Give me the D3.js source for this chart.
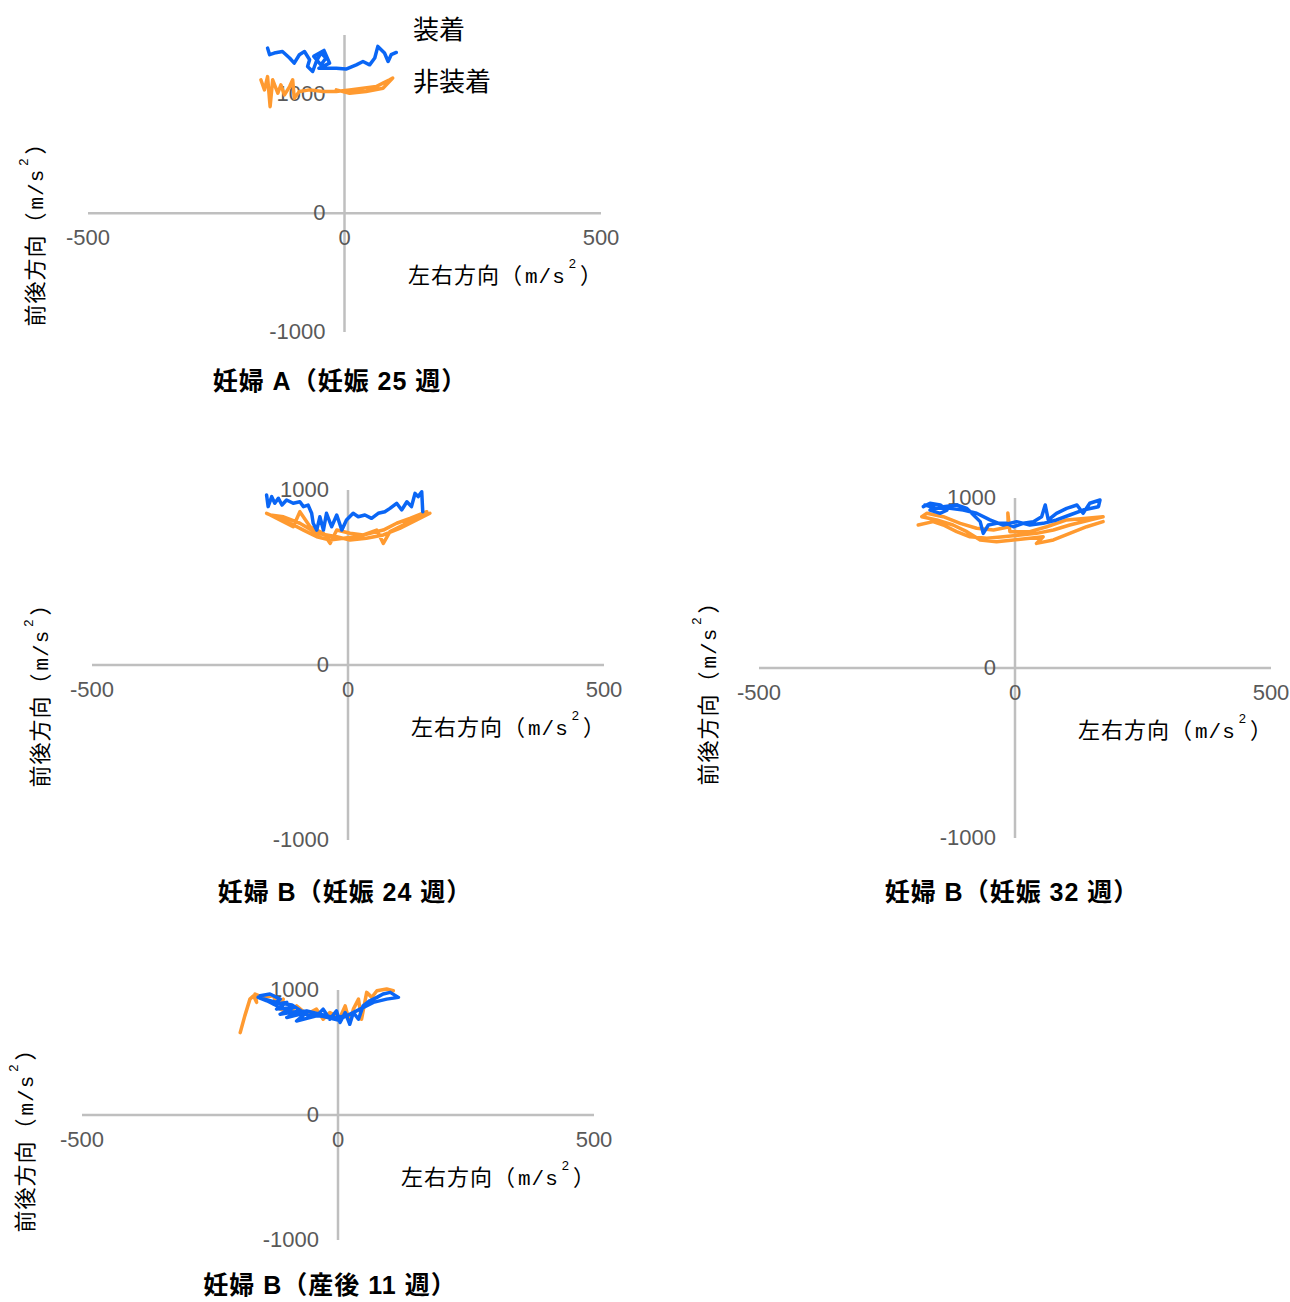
<!DOCTYPE html>
<html>
<head>
<meta charset="utf-8">
<script src="https://cdn.jsdelivr.net/npm/d3@7"></script>
<style>
  body { margin: 0; background: #fff; }
  svg { display: block; }
  .tick-label { font-family: "Liberation Sans", Arial, sans-serif; font-size: 22px; fill: #595959; }
  .axis-title { font-family: "Noto Sans CJK JP", sans-serif; font-size: 22px; fill: #000; letter-spacing: 1px; }
  .unit { font-family: "Liberation Mono", monospace; font-size: 21px; }
  .panel-title { font-family: "Liberation Sans", "Noto Sans CJK JP", sans-serif; font-size: 25px; font-weight: bold; fill: #000; letter-spacing: 1px; }
  .legend { font-family: "Noto Sans CJK JP", sans-serif; font-size: 26px; fill: #000; }
</style>
</head>
<body>
<svg width="1290" height="1302"></svg>
<script>
// series names
const seriesNames = ["装着", "非装着"]
const xTicks = [-500, 0, 500]
const yTicks = [-1000, 0, 1000]

// 妊婦A 妊娠25週  [左右, 前後]
const a25Wear = [[-150,1390],[-146,1334],[-137,1348],[-121,1361],[-107,1306],[-98,1263],[-88,1334],[-78,1361],
  [-68,1292],[-72,1235],[-62,1193],[-55,1277],[-46,1348],[-36,1306],[-46,1249],[-60,1320],[-40,1370],[-29,1263],
  [-50,1220],[-16,1221],[3,1213],[23,1249],[36,1277],[49,1249],[59,1306],[65,1404],[78,1348],[85,1277],[91,1334],[101,1353]]
const a25NoWear = [[-163,1123],[-156,1038],[-150,1150],[-145,897],[-140,1123],[-130,1010],[-124,1080],[-117,996],
  [-107,1066],[-101,1123],[-98,968],[-88,1024],[-68,1038],[-42,1024],[-16,1024],[10,1038],[36,1052],[62,1066],
  [75,1095],[88,1123],[94,1137],[75,1052],[42,1024],[10,1010],[-16,1038]]

// 妊婦B 妊娠24週
const b24Wear = [[-159,971],[-156,905],[-149,962],[-143,924],[-136,953],[-129,914],[-120,943],[-107,924],[-94,933],
  [-87,905],[-78,914],[-71,867],[-68,810],[-61,771],[-55,847],[-48,771],[-42,867],[-32,790],[-22,857],[-12,771],
  [-3,829],[10,867],[20,847],[33,857],[46,838],[59,867],[72,876],[82,895],[95,924],[105,886],[115,933],[124,905],
  [131,981],[137,962],[144,990],[146,876]]
const b24NoWear = [[-159,867],[-113,810],[-87,771],[-61,733],[-35,714],[-9,724],[17,733],[43,753],[69,771],[95,810],
  [121,838],[154,876],[134,847],[108,800],[82,762],[69,695],[56,771],[30,743],[4,753],[-22,771],[-35,695],[-48,753],
  [-74,790],[-94,876],[-107,790],[-133,829],[-152,857],[-126,847],[-94,810],[-61,753],[-22,733],[4,714],[36,724],
  [69,743],[101,781],[134,829],[160,867]]

// 妊婦B 妊娠32週
const b32Wear = [[-179,949],[-166,969],[-146,959],[-133,929],[-146,910],[-166,929],[-140,949],[-114,959],[-94,939],
  [-81,900],[-68,861],[-62,792],[-52,841],[-36,851],[-16,851],[-3,831],[16,851],[36,861],[52,890],[59,959],[65,871],
  [81,910],[101,939],[121,959],[133,910],[146,969],[166,988],[163,949],[133,929],[107,900],[81,871],[55,851],[29,841],
  [3,861],[-23,841],[-49,871],[-75,910],[-101,929],[-127,939],[-153,939],[-176,959]]
const b32NoWear = [[-189,841],[-160,861],[-140,841],[-114,802],[-88,772],[-55,763],[-23,772],[10,782],[42,792],
  [75,812],[107,841],[146,871],[172,890],[140,881],[101,871],[62,831],[29,802],[-10,802],[-14,912],[-13,829],
  [-42,812],[-75,822],[-107,851],[-140,890],[-172,910],[-182,890],[-153,871],[-121,841],[-94,802],[-68,753],
  [-36,743],[-3,753],[29,763],[55,772],[42,733],[75,753],[107,792],[140,831],[172,861]]

// 妊婦B 産後11週
const b11Wear = [[-152,954],[-133,968],[-113,927],[-126,887],[-100,901],[-120,847],[-87,861],[-113,806],[-74,833],
  [-100,780],[-61,820],[-81,752],[-42,793],[-29,847],[-16,766],[-3,833],[4,740],[14,820],[23,726],[30,820],[40,766],
  [49,873],[62,914],[76,941],[88,968],[102,981],[118,941],[95,927],[69,901],[43,847],[17,793],[-9,780],[-35,806],
  [-61,833],[-87,820],[-113,861],[-139,914],[-156,941],[-120,900],[-90,880],[-60,800],[-30,790],[0,760],[20,800]]
const b11NoWear = [[-191,659],[-182,793],[-172,927],[-165,954],[-159,901],[-162,968],[-146,941],[-126,954],[-120,887],
  [-107,927],[-113,847],[-94,820],[-81,873],[-61,806],[-42,847],[-29,766],[-16,820],[4,780],[14,873],[23,740],[30,847],
  [40,927],[46,766],[56,981],[66,941],[76,994],[95,1008],[108,994]]

const titles = ["妊婦 A（妊娠 25 週）", "妊婦 B（妊娠 24 週）", "妊婦 B（妊娠 32 週）", "妊婦 B（産後 11 週）"]

const colors = ["#0a66f5", "#ff9a30"]

// layout of each panel
const panels = [
  { wear: a25Wear, noWear: a25NoWear, title: titles[0], x0: 88, x1: 601, yTop: 35, yBot: 332, yMax: 1500,
    yLab: [37, 229], tLab: [340, 383] },
  { wear: b24Wear, noWear: b24NoWear, title: titles[1], x0: 92, x1: 604, yTop: 490, yBot: 840, yMax: 1000,
    yLab: [42, 690], tLab: [345, 894] },
  { wear: b32Wear, noWear: b32NoWear, title: titles[2], x0: 759, x1: 1271, yTop: 498, yBot: 838, yMax: 1000,
    yLab: [710, 688], tLab: [1012, 894] },
  { wear: b11Wear, noWear: b11NoWear, title: titles[3], x0: 82, x1: 594, yTop: 990, yBot: 1240, yMax: 1000,
    yLab: [27, 1135], tLab: [330, 1287] }
]

let svg = d3.select("svg")

function unitLabel(t, head) {
  t.append("tspan").text(head + "（")
  t.append("tspan").attr("class", "unit").attr("dx", 2).text("m/s")
  t.append("tspan").attr("dx", 3).attr("dy", -12).attr("font-size", 13).attr("font-family", "Liberation Sans").text("2")
  t.append("tspan").attr("dx", 3).attr("dy", 12).text("）")
}

panels.forEach(p => {
  let x = d3.scaleLinear().domain([-500, 500]).range([p.x0, p.x1])
  let y = d3.scaleLinear().domain([-1000, p.yMax]).range([p.yBot, p.yTop])
  let g = svg.append("g")

  // axes through zero
  g.append("line")
    .attr("x1", x(-500)).attr("x2", x(500))
    .attr("y1", y(0)).attr("y2", y(0))
    .attr("stroke", "#bfbfbf").attr("stroke-width", 2.5)
  g.append("line")
    .attr("x1", x(0)).attr("x2", x(0))
    .attr("y1", y(-1000)).attr("y2", y(p.yMax))
    .attr("stroke", "#bfbfbf").attr("stroke-width", 2.5)

  g.selectAll(".xt").data(xTicks).enter().append("text")
    .attr("class", "tick-label")
    .attr("x", d => x(d)).attr("y", y(0) + 26)
    .attr("text-anchor", "middle").attr("dominant-baseline", "middle")
    .text(d => d)
  g.selectAll(".yt").data(yTicks).enter().append("text")
    .attr("class", "tick-label")
    .attr("x", x(0) - 19).attr("y", d => y(d) + 1)
    .attr("text-anchor", "end").attr("dominant-baseline", "middle")
    .text(d => d)

  // axis titles
  let xt = g.append("text").attr("class", "axis-title")
    .attr("x", p.x1 + 2).attr("y", y(0) + 64)
    .attr("text-anchor", "end").attr("dominant-baseline", "middle")
  unitLabel(xt, "左右方向")

  let yt = g.append("text").attr("class", "axis-title")
    .attr("transform", "translate(" + p.yLab[0] + "," + p.yLab[1] + ") rotate(-90)")
    .attr("text-anchor", "middle").attr("dominant-baseline", "middle")
  unitLabel(yt, "前後方向")

  // traces: non-wearing underneath
  let line = d3.line().x(d => x(d[0])).y(d => y(d[1]))
  g.append("path").datum(p.noWear)
    .attr("d", line).attr("fill", "none")
    .attr("stroke", colors[1]).attr("stroke-width", 3.5)
    .attr("stroke-linejoin", "round").attr("stroke-linecap", "round")
  g.append("path").datum(p.wear)
    .attr("d", line).attr("fill", "none")
    .attr("stroke", colors[0]).attr("stroke-width", 3.5)
    .attr("stroke-linejoin", "round").attr("stroke-linecap", "round")

  g.append("text").attr("class", "panel-title")
    .attr("x", p.tLab[0]).attr("y", p.tLab[1])
    .attr("text-anchor", "middle").attr("dominant-baseline", "middle")
    .text(p.title)
})

// legend (text only)
svg.selectAll(".legend").data(seriesNames).enter().append("text")
  .attr("class", "legend")
  .attr("x", 413).attr("y", (d, i) => 32 + i * 52)
  .attr("dominant-baseline", "middle")
  .text(d => d)
</script>
</body>
</html>
